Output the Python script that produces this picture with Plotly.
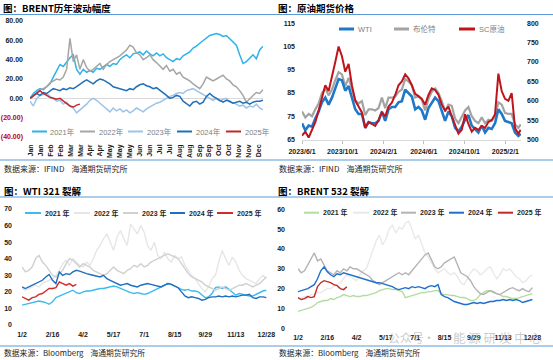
import plotly.graph_objects as go
import pandas as pd

W, H = 553, 360
FONT = "Liberation Sans, Noto Sans CJK SC, sans-serif"
CJK = "Noto Sans CJK SC, Liberation Sans, sans-serif"

# ---------------- Panel 1: BRENT 历年波动幅度 ----------------
tl_2021 = [0,5,8,10,9,12,15,22,28,35, 33,38,42,45,30,25,30,27,29,27, 31,30,33,35,33,36,35,40,43,45,
           42,46,47,48,45,49,46,44,47,44, 46,42,40,38,41,40,44,46,48,52, 54,57,60,62,65,66,67,66,64,65,
           62,58,55,45,36,38,42,45,41,50,54]
tl_2022 = [0,3,6,9,10,12,16,18,20,19, 22,30,62,38,45,30,40,32,28,30, 33,36,30,35,38,40,42,44,47,50,
           55,53,47,45,40,42,45,40,37,33, 30,34,28,30,25,27,22,20,18,15, 12,10,15,22,20,18,20,22,24,20,
           18,14,12,8,3,-4,0,3,6,5,9]
tl_2023 = [-3,-8,0,3,4,5,2,0,-3,-2, -6,-4,-8,-10,-15,-12,-10,-6,-2,0, -2,-5,-8,-12,-14,-10,-13,-11,-14,-12,
           -15,-13,-10,-12,-14,-11,-9,-7,-5,-4, -2,0,2,3,5,6,5,8,9,10, 8,6,4,2,0,-2,0,-3,-1,0,
           -4,-5,-6,-8,-7,-10,-8,-9,-6,-10,-12]
tl_2024 = [0,3,5,3,6,5,8,10,9,8, 10,9,11,10,12,15,17,19,17,15, 18,20,19,17,15,12,11,10,9,8,
           10,9,12,14,15,13,12,10,11,8, 5,3,0,1,3,2,-3,-6,-8,-4, -3,-6,-4,2,5,2,0,-2,-4,-2,
           -3,-5,-4,-3,-5,-4,-6,-4,-3,-3,-2]
tl_2025 = [0,3,6,8,5,3,1,0,-1,0,-3,-5,-8,-9,-7,-6]
tl_months = ["Jan","Jan","Feb","Feb","Mar","Mar","Apr","Apr","May","May","May","Jun","Jun",
             "Jul","Jul","Aug","Aug","Sep","Sep","Oct","Oct","Nov","Nov","Dec"]
tl_yvals = [-40,-20,0,20,40,60,80]
tl_ylabels = ["(40.00)","(20.00)","0.00","20.00","40.00","60.00","80.00"]

# ---------------- Panel 2: 原油期货价格 ----------------
tr_dates = [d.strftime("%Y-%m-%d") for d in pd.date_range("2023-06-01", periods=66, freq="10D")] + ["2025-03-19"]
tr_wti = [72,69,71,70.5,74,77,81,83,80,83, 87,91,90.5,86,88,83,78,76,76,70, 72.5,72,72,73,77,73,78,79,79,81,
          81.5,86.5,85,83.5,78,79,77.5,73.5,78.5,81, 83,81.5,77,73,77,75,70,68.5,70.5,73.5,
          75.5,71,69.5,68,71,68,70,69.5,72,78, 76,73,72.5,72,68,66.5,67.5]
tr_brent = [77,74.5,76,75,78,80.5,85,87,84,86.5, 90.5,94,93,88,91.5,87,82,80.5,81.5,75.5,
            78,78,77.5,78.5,83,78.5,83,83,83.5,85.5, 86.5,91,90,88.5,83,83.5,82,77.5,82.5,85.5,
            87,85,81.5,77,80,79.5,74,72,74.5,77.5, 79,75,73,72,74.5,72,73.5,73,75,81,
            80,76.5,76,76,71.5,70,71.5]
tr_sc = [510,520,505,525,545,575,610,640,625,660, 700,740,715,675,695,640,600,585,570,530,
         545,540,535,550,570,560,585,595,615,640, 650,668,658,640,618,612,605,590,615,632,
         628,615,590,575,585,560,535,515,525,565, 540,520,530,525,535,530,545,550,565,670,
         625,605,600,620,530,515,525]
tr_xticks = ["2023-06-01","2023-10-01","2024-02-01","2024-06-01","2024-10-01","2025-02-01"]
tr_xlabels = ["2023/6/1","2023/10/1","2024/2/1","2024/6/1","2024/10/1","2025/2/1"]

# ---------------- Panel 3: WTI 321 裂解 ----------------
crack_days = list(range(0, 361, 5))
bl_2021 = [12,12.5,13,13.5,14,14.5,14,13.5,12.5,14, 16.5,17.5,18,19.5,20,21,19.5,19,20,20.5,
           20.5,21,21.5,22,22,22.5,23,23.5,23,22, 21.5,20.5,19.5,19,19.5,19,18.5,19,20,21,
           22,23,24,25,24.5,23.5,22,21.5,21,21.5, 20.5,20.5,20,18,16.5,17,19,22.5,23,22,
           23,21.5,20,18,19,18.5,18,17.5,17.5,18.5,19.5,20.5,21]
bl_2022 = [22,21,22,23,24,23,25,26,27,28, 30,33,37,39,36,40,38,36,35,38, 36,40,45,48,52,55,50,45,53,57,
           52,48,61,58,55,60,56,48,45,50, 42,40,44,40,38,42,40,41,36,33, 30,28,25,22,20,23,28,30,38,45,
           40,36,41,38,33,30,28,27,26,25,28,30,28]
bl_2023 = [35,32,33,35,40,42,38,36,33,30, 29,31,33,37,40,39,37,35,37,36, 35,33,32,31,30,31,33,35,33,32,
           31,33,34,36,35,37,35,36,38,39, 40,41,42,43,42,41,40,37,34,31, 29,28,27,26,24,23,22,21,22,23,
           22,21,22,23,24,24,25,24,23,24,25,27,29]
bl_2024 = [23,22,23,24,25,26,27,29,30.5,27, 25,32,30,31,30.5,32,33,32.5,31.5,31, 30.5,30,29.5,29,30,28,27,26,25,24,
           24.5,25,24,23.5,23,24,24.5,25,24.5,24, 23.5,23,24,25,24.5,23.5,22.5,20,17.5,16.5,
           17,16.5,16,15,15.5,16.5,17,17,17.5,17, 17.5,17,17.5,17,17.5,18,18,18.5,16.5,16,17,17,16.5]
bl_2025 = [17,16,15,16.5,17,18.5,19,20.5,22,22,22.5,26,25,24,25,23.5,24.5]

# ---------------- Panel 4: BRENT 532 裂解 ----------------
br_2021 = [8.5,9,9.5,10,10.5,11.5,13,13.5,14,14, 15,14.5,15.5,16,17,16.5,16,16.5,16,16,
           16.5,16.5,17,17.5,18,19,19.5,20,20,19.5, 19.5,19,18.5,15.5,16,16.5,17,17.5,18,18,
           18.5,18.5,19,19,17.5,17,17,16.5,16.5,16, 15.5,15.5,15,14,14,15,17,18,19,19,
           18,17.5,17,16,16,15.5,15,15,15.5,16,16.5,17,17.5]
br_2022 = [15,15,16,16,17,17,18,18,19,20, 20,21,22,23,25,27,26,25,24,27, 29,30,35,40,44,47,42,45,50,52,
           48,51,50,53,54,50,45,47,42,38, 36,33,30,28,29,30,28,27,28,26, 23,22,25,28,30,29,27,28,30,31,
           28,25,27,30,29,30,28,26,25,23,24,26,27]
br_2023 = [30,28,29,32,35,38,34,35,32,29, 28,27,29,28,30,29,31,30,30,29, 28,27,26,24,23,22,23,24,25,26,
           27,28,27,28,27,29,31,33,35,37, 38,34,31,30,31,33,34,35,36,32, 28,27,26,24,21,19,17.5,17,18,19,
           18.5,17.5,17,18,19,20,20.5,19.5,19,20,19,18.5,20.5]
br_2024 = [18.5,19,19.5,20,21,22,25,29,31,28.5, 27,26,27.5,27,28,27.5,27,26.5,26,25.5,
           25,24.5,24,23.5,23,23,22.5,22,21.5,21, 20,19.5,20,20.5,20,21,20.5,21,20.5,20,
           21,21.5,21,22,17,16,15.5,14.5,13.5,13, 12.5,12,12,12.5,13,12.5,13,12.5,13,13.5,
           13.5,14,14,14.5,14,14.5,14,14.5,14,13,13.5,14,14.5]
br_2025 = [15.5,14.5,15,16,15.5,16,21,23,24,23.5,23,22,21.5,20,19.5,21]

crack_tickdays = [0,45,90,135,180,225,270,315,360]
crack_ticklabels = ["1/2","2/16","4/2","5/17","7/1","8/15","9/29","11/13","12/28"]
years = ["2021年","2022年","2023年","2024年","2025年"]
years_sp = ["2021 年","2022 年","2023 年","2024 年","2025 年"]

fig = go.Figure()

def px(x):
    return x / W

def py(y):
    return 1 - y / H

def add_line(x, y, color, width, xa, ya):
    fig.add_trace(go.Scatter(x=x, y=y, mode="lines", line=dict(color=color, width=width),
                             xaxis=xa, yaxis=ya, showlegend=False, hoverinfo="skip"))

# panel 1
tl_colors = ["#2db3e8", "#a6a6a6", "#9dc3e6", "#2070b8", "#c0282d"]
for ser, c in zip([tl_2021, tl_2022, tl_2023, tl_2024, tl_2025], tl_colors):
    add_line(list(range(len(ser))), ser, c, 1.5, "x", "y")

# panel 2
add_line(tr_dates, tr_brent, "#a3a3a3", 2.2, "x2", "y2")
add_line(tr_dates, tr_wti, "#1f78c8", 2.6, "x2", "y2")
add_line(tr_dates, tr_sc, "#c0141c", 2.0, "x2", "y5")

# panel 3
bl_colors = ["#3bbbee", "#e6e6e6", "#d0d0d0", "#1f6fbf", "#d42a2a"]
for ser, c in zip([bl_2021, bl_2022, bl_2023, bl_2024, bl_2025], bl_colors):
    add_line(crack_days[:len(ser)], ser, c, 1.4, "x3", "y3")

# panel 4
br_colors = ["#b4dca0", "#e9e9e9", "#b3b3b3", "#1f6fcc", "#c62828"]
for ser, c in zip([br_2021, br_2022, br_2023, br_2024, br_2025], br_colors):
    add_line(crack_days[:len(ser)], ser, c, 1.4, "x4", "y4")

tickf = dict(family=FONT, size=7, color="#1a1a1a", weight="bold")
base_ax = dict(showgrid=False, zeroline=False, showline=False, ticks="", fixedrange=True,
               automargin=False)

tl_ticks = [0.2 + k * 2.98 for k in range(len(tl_months))]
tl_text = [('<span style="color:#c00000">%s</span>' % t) if v < 0 else t for v, t in zip(tl_yvals, tl_ylabels)]

fig.update_layout(
    template="none",
    width=W, height=H, margin=dict(l=0, r=0, t=0, b=0, pad=0, autoexpand=False),
    paper_bgcolor="white", plot_bgcolor="white", showlegend=False,
    xaxis=dict(base_ax, domain=[px(30), px(263)], range=[0, 70], anchor="y",
               tickmode="array", tickvals=tl_ticks, ticktext=tl_months, tickangle=-90,
               tickfont=tickf, ticklabelstandoff=5),
    yaxis=dict(base_ax, domain=[py(137), py(21)], range=[-40, 80], anchor="x",
               tickmode="array", tickvals=tl_yvals, ticktext=tl_text, tickfont=tickf,
               zeroline=True, zerolinecolor="#d9d9d9", zerolinewidth=1, ticklabelstandoff=6),
    xaxis2=dict(base_ax, domain=[px(302), px(521)], type="date",
                range=["2023-06-01", "2025-03-20"], anchor="y2",
                tickmode="array", tickvals=tr_xticks, ticktext=tr_xlabels, tickfont=tickf,
                ticks="outside", ticklen=3, tickcolor="#bfbfbf", showline=True, linecolor="#d9d9d9",
                ticklabelstandoff=2),
    yaxis2=dict(base_ax, domain=[py(139.5), py(23.3)], range=[65, 115], anchor="x2",
                tickmode="linear", tick0=65, dtick=10, tickfont=tickf, ticklabelstandoff=6),
    yaxis5=dict(base_ax, overlaying="y2", side="right", anchor="x2", range=[500, 800],
                tickmode="linear", tick0=500, dtick=50, tickfont=tickf, ticklabelstandoff=5),
    xaxis3=dict(base_ax, domain=[px(22), px(267)], range=[0, 361], anchor="y3",
                tickmode="array", tickvals=crack_tickdays, ticktext=crack_ticklabels,
                tickfont=tickf, ticklabelstandoff=4),
    yaxis3=dict(base_ax, domain=[py(325), py(209)], range=[0, 70], anchor="x3",
                tickmode="linear", tick0=0, dtick=10, tickfont=tickf, ticklabelstandoff=9),
    xaxis4=dict(base_ax, domain=[px(298), px(538)], range=[0, 368.6], anchor="y4",
                tickmode="array", tickvals=crack_tickdays, ticktext=crack_ticklabels,
                tickfont=tickf, ticklabelstandoff=4),
    yaxis4=dict(base_ax, domain=[py(328.3), py(209.3)], range=[0, 60], anchor="x4",
                tickmode="linear", tick0=0, dtick=10, tickfont=tickf, ticklabelstandoff=12),
)

shapes = []
annots = []

def hline(y, x0=0, x1=W, color="#5b9bd5", width=1.2):
    shapes.append(dict(type="line", xref="paper", yref="paper", x0=px(x0), x1=px(x1),
                       y0=py(y), y1=py(y), line=dict(color=color, width=width)))

def text(x, y, s, size, color="#000", weight="normal", family=CJK, xanchor="left"):
    annots.append(dict(x=px(x), y=py(y), xref="paper", yref="paper", text=s, showarrow=False,
                       xanchor=xanchor, yanchor="middle",
                       font=dict(size=size, color=color, family=family, weight=weight)))

# frame lines
for yy in (14.5, 160, 197, 346):
    hline(yy)

# titles
text(1, 8, "图：BRENT历年波动幅度", 9.5, weight="bold")
text(276, 8, "图：原油期货价格", 9.5, weight="bold")
text(2, 191, "图：WTI 321 裂解", 9.5, weight="bold")
text(276, 191, "图：BRENT 532 裂解", 9.5, weight="bold")

# sources
nb = "\u00a0" * 4
text(2, 168, "数据来源：IFIND" + nb + "海通期货研究所", 8, color="#262626")
text(277, 168, "数据来源：IFIND" + nb + "海通期货研究所", 8, color="#262626")
text(2, 352.5, "数据来源：Bloomberg" + nb + "海通期货研究所", 7.8, color="#262626")
text(277, 352.5, "数据来源：Bloomberg" + nb + "海通期货研究所", 7.8, color="#262626")

# legends
def legend_item(x0, x1, y, color, width, label, tx, size, tcolor, weight="normal"):
    hline(y, x0, x1, color=color, width=width)
    text(tx, y, label, size, color=tcolor, weight=weight, family=FONT)

tl_leg = [(32, 47, 48), (80, 95, 97), (128, 143, 145), (177, 192, 194), (226, 241, 243)]
for (a, b, t), c, lab in zip(tl_leg, tl_colors, years):
    legend_item(a, b, 131.5, c, 2, lab, t, 7.5, "#808080")

tr_leg = [(339, 354, 356, "#1f78c8", "WTI"), (394, 409, 411, "#a3a3a3", "布伦特"),
          (459, 475, 477, "#c0141c", "SC原油")]
for a, b, t, c, lab in tr_leg:
    legend_item(a, b, 29, c, 3, lab, t, 7.5, "#808080")

bl_leg = [(25, 41, 43), (74, 90, 92), (123, 138, 140), (170, 185, 187), (217, 233, 235)]
for (a, b, t), c, lab in zip(bl_leg, bl_colors, years_sp):
    legend_item(a, b, 213, c, 2, lab, t, 7, "#262626", weight="bold")

br_leg = [(304, 319, 321), (353, 369, 371), (401, 416, 418), (449, 464, 466), (498, 513, 515)]
for (a, b, t), c, lab in zip(br_leg, br_colors, years_sp):
    legend_item(a, b, 212.7, c, 2, lab, t, 7, "#262626", weight="bold")

# watermark
text(386, 337, "公众号", 12, color="rgba(150,150,150,0.5)")
text(429, 337, "·", 12, color="rgba(150,150,150,0.5)", xanchor="center")
text(451, 337, "能\u00a0源\u00a0研\u00a0发\u00a0中\u00a0心", 12.5, color="rgba(150,150,150,0.5)")

fig.update_layout(shapes=shapes, annotations=annots)
fig.write_html("out.html", config={"displayModeBar": False},
               post_script="document.body.style.margin='0px';")
